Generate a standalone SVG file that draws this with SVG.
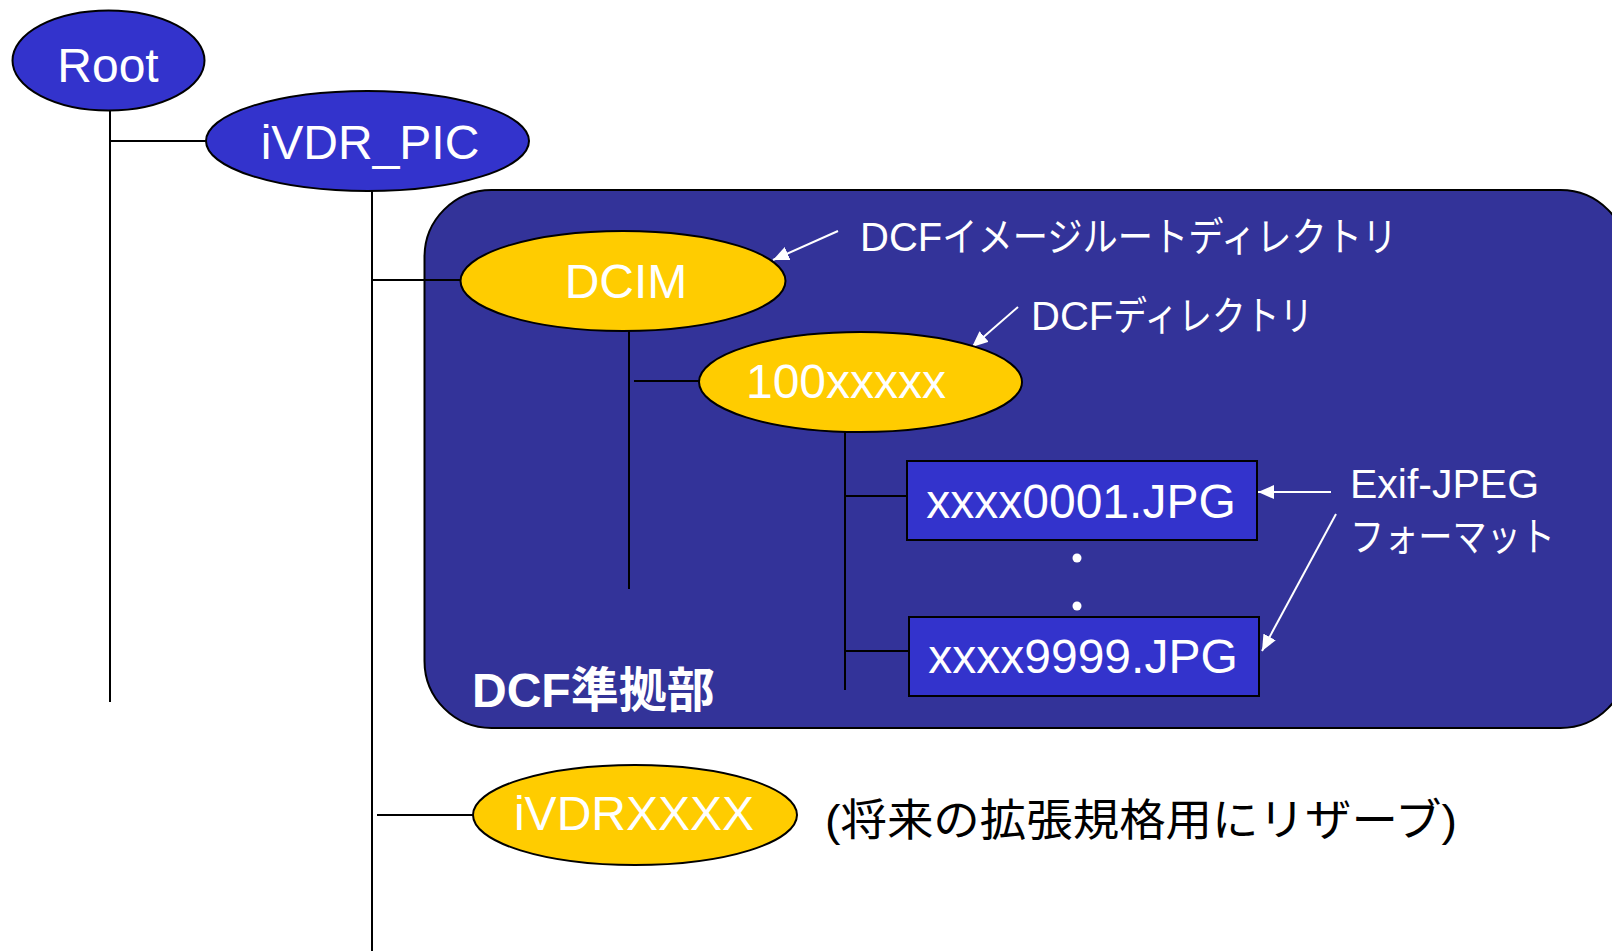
<svg xmlns="http://www.w3.org/2000/svg" width="1612" height="951" viewBox="0 0 1612 951">
<style>
.bg{fill:#ffffff}
.ell-blue{fill:#3333CC;stroke:#000;stroke-width:2}
.ell-yellow{fill:#FFCC00;stroke:#000;stroke-width:2}
.box{fill:#3333CC;stroke:#000;stroke-width:2}
.area{fill:#333399;stroke:#000;stroke-width:2}
.ln{stroke:#000;stroke-width:2;fill:none}
.arr{stroke:#fff;stroke-width:2;fill:none;marker-end:url(#ah)}
.lbl{font-family:"Liberation Sans",Arial,"Noto Sans CJK JP",sans-serif;font-size:48px;fill:#fff;text-anchor:middle}
.note{font-family:"Liberation Sans",Arial,"Noto Sans CJK JP",sans-serif;font-size:40px;fill:#fff}
.title{font-family:"Liberation Sans",Arial,"Noto Sans CJK JP",sans-serif;font-size:48px;font-weight:bold;fill:#fff}
.black{font-family:"Liberation Sans",Arial,"Noto Sans CJK JP",sans-serif;font-size:44px;fill:#000}
</style>
<defs>
<marker id="ah" markerUnits="userSpaceOnUse" markerWidth="17" markerHeight="14" refX="16" refY="7" orient="auto">
<path d="M0,0 L16,7 L0,14 z" fill="#fff"/>
</marker>
</defs>
<rect class="bg" x="0" y="0" width="1612" height="951"/>

<g id="dcf-area">
<rect class="area" x="424.5" y="190" width="1203" height="538" rx="67" ry="67"/>
<text class="title" x="472" y="707">DCF準拠部</text>
</g>

<g id="connectors">
<line class="ln" x1="110" y1="111" x2="110" y2="702"/>
<line class="ln" x1="110" y1="141" x2="206" y2="141"/>
<line class="ln" x1="372" y1="191" x2="372" y2="951"/>
<line class="ln" x1="372" y1="280" x2="461" y2="280"/>
<line class="ln" x1="629" y1="331" x2="629" y2="589"/>
<line class="ln" x1="634" y1="381" x2="699" y2="381"/>
<line class="ln" x1="845" y1="432" x2="845" y2="690"/>
<line class="ln" x1="845" y1="496" x2="907" y2="496"/>
<line class="ln" x1="845" y1="651" x2="909" y2="651"/>
<line class="ln" x1="377" y1="815" x2="473" y2="815"/>
<line class="arr" x1="838" y1="231" x2="773" y2="260"/>
<line class="arr" x1="1018" y1="307" x2="972" y2="347"/>
<line class="arr" x1="1331" y1="492" x2="1258" y2="492"/>
<line class="arr" x1="1336" y1="514" x2="1262" y2="651"/>
</g>

<g id="root">
<ellipse class="ell-blue" cx="108.5" cy="60.5" rx="96" ry="50"/>
<text class="lbl" x="108" y="82">Root</text>
</g>

<g id="ivdr-pic">
<ellipse class="ell-blue" cx="367.5" cy="141" rx="161.5" ry="50"/>
<text class="lbl" x="370" y="159">iVDR_PIC</text>
</g>

<g id="dcim">
<ellipse class="ell-yellow" cx="623" cy="281" rx="162.5" ry="50"/>
<text class="lbl" x="626" y="298">DCIM</text>
</g>

<g id="dir-100">
<ellipse class="ell-yellow" cx="860.5" cy="382" rx="161.5" ry="50"/>
<text class="lbl" x="846" y="398">100xxxxx</text>
</g>

<g id="file-0001">
<rect class="box" x="907" y="461" width="350" height="79"/>
<text class="lbl" x="1081" y="518">xxxx0001.JPG</text>
</g>

<g id="dots">
<circle cx="1077" cy="558" r="4.5" fill="#fff"/>
<circle cx="1077" cy="606" r="4.5" fill="#fff"/>
</g>

<g id="file-9999">
<rect class="box" x="909" y="617" width="350" height="79"/>
<text class="lbl" x="1083" y="673">xxxx9999.JPG</text>
</g>

<g id="ivdrxxxx">
<ellipse class="ell-yellow" cx="635" cy="815" rx="162" ry="50"/>
<text class="lbl" x="634" y="830">iVDRXXXX</text>
</g>

<g id="notes">
<text class="note" x="860" y="251">DCF<tspan textLength="455" lengthAdjust="spacingAndGlyphs">イメージルートディレクトリ</tspan></text>
<text class="note" x="1031" y="330">DCF<tspan textLength="200" lengthAdjust="spacingAndGlyphs">ディレクトリ</tspan></text>
<text class="note" x="1350" y="498" style="font-size:41px">Exif-JPEG</text>
<text class="note" x="1350" y="551" textLength="205" lengthAdjust="spacingAndGlyphs">フォーマット</text>
<text class="black" x="825" y="836" textLength="632" lengthAdjust="spacingAndGlyphs">(将来の拡張規格用にリザーブ)</text>
</g>
</svg>
